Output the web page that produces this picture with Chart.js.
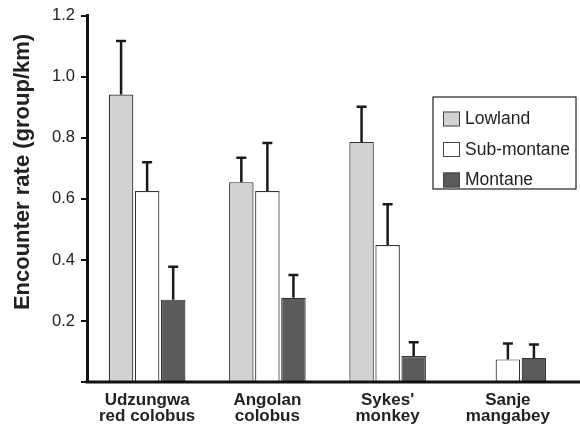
<!DOCTYPE html>
<html>
<head>
<meta charset="utf-8">
<script src="https://cdn.jsdelivr.net/npm/chart.js@4/dist/chart.umd.min.js"></script>
<style>
  html, body { margin: 0; padding: 0; background: #fff; }
  #wrap { width: 580px; height: 433px; }
</style>
</head>
<body>
<div id="wrap"><canvas id="encounterChart"></canvas></div>
<script>
// --- data ---
const species = [['Udzungwa', 'red colobus'], ['Angolan', 'colobus'], ['Sykes\'', 'monkey'], ['Sanje', 'mangabey']];
const lowland = [0.942, 0.655, 0.787, null];
const lowlandErr = [1.118, 0.735, 0.902, null];
const subMontane = [0.626, 0.626, 0.449, 0.074];
const subMontaneErr = [0.720, 0.783, 0.583, 0.126];
const montane = [0.270, 0.276, 0.085, 0.079];
const montaneErr = [0.378, 0.351, 0.130, 0.123];
const yTicks = [0, 0.2, 0.4, 0.6, 0.8, 1.0, 1.2];
const yTitle = 'Encounter rate (group/km)';

const FONT = "'Liberation Sans', Arial, Helvetica, sans-serif";

// upward-only error bars, drawn from the bar element positions
const errorBars = {
    id: 'errorBars',
    afterDatasetsDraw(chart) {
        const ctx = chart.ctx;
        const y = chart.scales.y;
        ctx.save();
        ctx.strokeStyle = '#1a1a1a';
        ctx.lineWidth = 2.5;
        chart.data.datasets.forEach((ds, i) => {
            const meta = chart.getDatasetMeta(i);
            meta.data.forEach((bar, j) => {
                const top = ds.errTop[j];
                if (ds.data[j] == null || top == null) return;
                const yTop = y.getPixelForValue(top);
                ctx.beginPath();
                ctx.moveTo(bar.x, bar.y);
                ctx.lineTo(bar.x, yTop);
                ctx.moveTo(bar.x - 5, yTop);
                ctx.lineTo(bar.x + 5, yTop);
                ctx.stroke();
            });
        });
        ctx.restore();
    }
};

// x axis line running to the right edge, y title, boxed legend
const frame = {
    id: 'frame',
    afterDraw(chart) {
        const ctx = chart.ctx;
        const a = chart.chartArea;
        ctx.save();
        ctx.strokeStyle = '#111';
        ctx.lineWidth = 3;
        ctx.beginPath();
        ctx.moveTo(a.left - 1.5, a.bottom);
        ctx.lineTo(chart.width, a.bottom);
        ctx.stroke();

        // rotated y title (sits a bit above the plot centre in the original)
        ctx.save();
        ctx.translate(23, 172);
        ctx.rotate(-Math.PI / 2);
        ctx.font = 'bold 22px ' + FONT;
        ctx.fillStyle = '#222';
        ctx.textAlign = 'center';
        ctx.textBaseline = 'middle';
        ctx.fillText(yTitle, 0, 0);
        ctx.restore();

        // legend box
        ctx.lineWidth = 1.2;
        ctx.strokeStyle = '#222';
        ctx.strokeRect(433, 97, 143, 92);
        ctx.font = '17.5px ' + FONT;
        ctx.textBaseline = 'middle';
        ctx.textAlign = 'left';
        const rows = [119, 149.5, 180];
        chart.data.datasets.forEach((ds, i) => {
            ctx.fillStyle = ds.backgroundColor;
            ctx.fillRect(443, rows[i] - 7.5, 17, 15);
            ctx.lineWidth = 1;
            ctx.strokeStyle = '#444';
            ctx.strokeRect(443.5, rows[i] - 7, 16, 14);
            ctx.fillStyle = '#222';
            ctx.fillText(ds.label, 465, rows[i] + 0.5);
        });
        ctx.restore();
    }
};

const barStyle = { borderColor: '#333', borderWidth: 1.2, categoryPercentage: 0.65, barPercentage: 0.94 };

new Chart(document.getElementById('encounterChart'), {
    type: 'bar',
    data: {
        labels: species,
        datasets: [
            { label: 'Lowland', data: lowland, errTop: lowlandErr, backgroundColor: '#d1d3d2', ...barStyle },
            { label: 'Sub-montane', data: subMontane, errTop: subMontaneErr, backgroundColor: '#ffffff', ...barStyle },
            { label: 'Montane', data: montane, errTop: montaneErr, backgroundColor: '#5b5b5b', ...barStyle }
        ]
    },
    options: {
        responsive: true,
        maintainAspectRatio: false,
        animation: false,
        layout: { padding: { top: 14, right: 12, bottom: 0, left: 0 } },
        plugins: { legend: { display: false }, tooltip: { enabled: false } },
        scales: {
            x: {
                grid: { display: false },
                border: { display: false },
                ticks: {
                    color: '#222', padding: 2,
                    font: { family: FONT, size: 17, weight: 'bold', lineHeight: 0.96 },
                    maxRotation: 0, autoSkip: false
                },
                afterFit(scale) { scale.height = 51; }
            },
            y: {
                min: 0, max: 1.2,
                afterBuildTicks(scale) { scale.ticks = yTicks.map(v => ({ value: v })); },
                grid: { drawOnChartArea: false, drawTicks: true, tickLength: 6, tickColor: '#111', lineWidth: 2 },
                border: { display: true, color: '#111', width: 3 },
                ticks: {
                    color: '#222', padding: 6,
                    font: { family: FONT, size: 16.5 },
                    callback: v => v === 0 ? '' : v.toFixed(1)
                },
                title: { display: false },
                afterFit(scale) { scale.width = 87; }
            }
        }
    },
    plugins: [errorBars, frame]
});
</script>
</body>
</html>
